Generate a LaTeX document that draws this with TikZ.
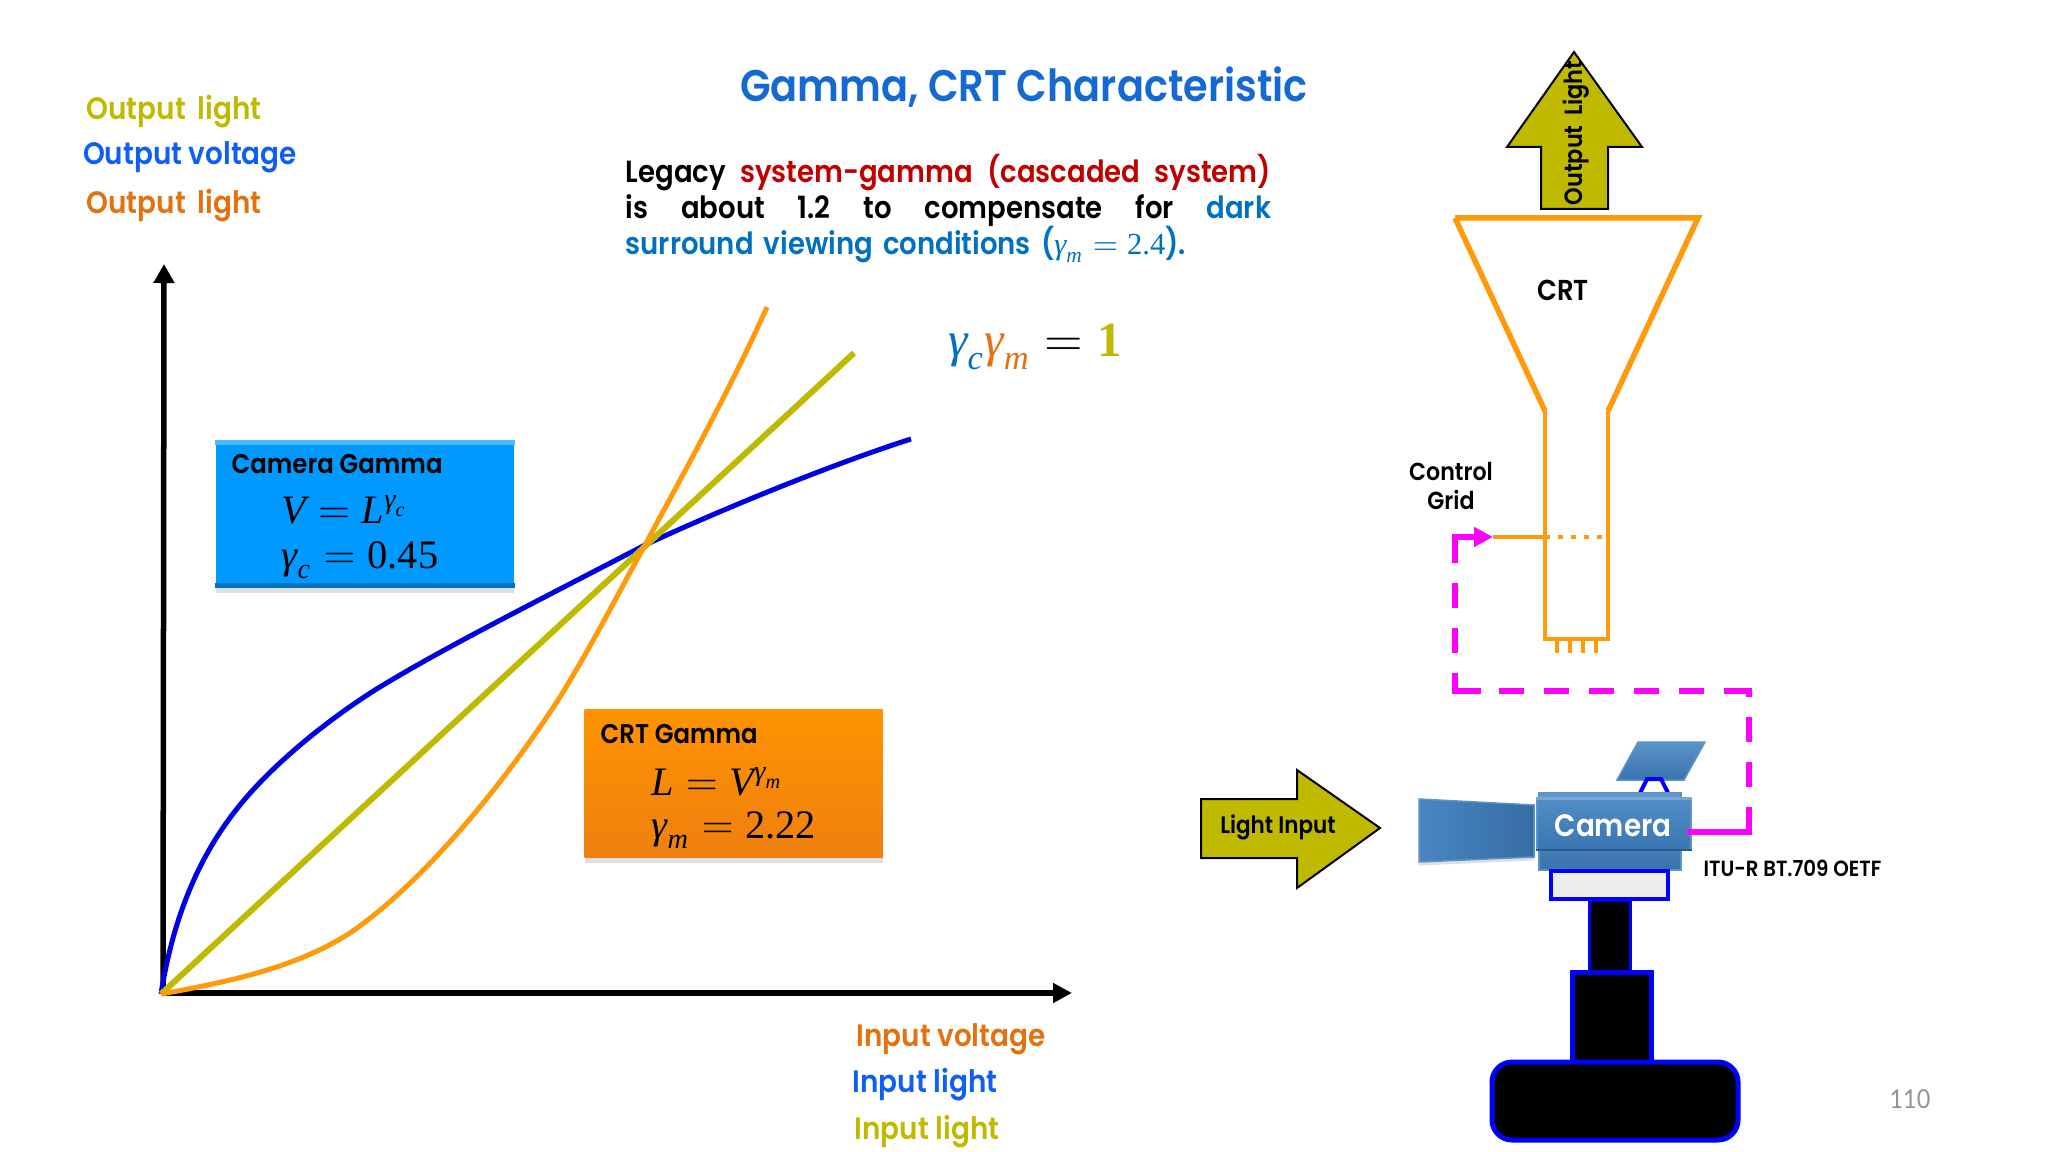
\documentclass[tikz,border=0pt]{standalone}
\usepackage{amsmath, amssymb}
\usepackage{xcolor}
\usepackage{fontspec}
\setmainfont{Poppins SemiBold}[FakeStretch=0.9]
\newfontfamily\pagefont{Lato}[FakeStretch=0.9]
\newfontfamily\mathface{Liberation Serif}
\usepackage{tikz}
\usetikzlibrary{arrows.meta, calc, shadows}
\newcommand{\mi}[1]{\text{\mathface\itshape #1}}
\newcommand{\mn}[1]{\text{\mathface #1}}
\definecolor{oliveline}{HTML}{BFBA00}
\definecolor{titleblue}{HTML}{1569D2}
\definecolor{labelblue}{HTML}{0F5FF5}
\definecolor{labelorange}{HTML}{E3710F}
\definecolor{darkred}{HTML}{C00000}
\definecolor{darkblue}{HTML}{0070C0}
\definecolor{steel}{HTML}{3F80C0}
\definecolor{tube}{HTML}{FF9A0A}
\definecolor{signalpink}{HTML}{FF00FF}
\definecolor{skybox}{HTML}{0099FF}
\tikzset{
    axis/.style={draw=black, line width=0.55mm},
    curveblue/.style={draw=blue!90!black, line width=0.5mm},
    curveolive/.style={draw=oliveline, line width=0.6mm},
    curveorange/.style={draw=tube, line width=0.5mm},
    label/.style={inner sep=0pt, font=\fontsize{8.8}{10}\selectfont},
    gammabox/.style={minimum width=29.8mm, inner sep=0pt, drop shadow={shadow xshift=0pt, shadow yshift=-1.5pt, opacity=0.25}},
    bigarrow/.style={fill=oliveline, draw=black, line width=0.2mm},
    tube/.style={draw=tube, line width=0.42mm},
    signal/.style={draw=signalpink, line width=0.6mm},
    signaldash/.style={signal, dash pattern=on 7.1pt off 5.7pt, dash phase=7.1pt},
    bevel/.style={fill=steel, draw=steel!85!white, line width=0.15mm},
    stand/.style={fill=black, draw=blue, line width=0.5mm}
}
\begin{document}
\begin{tikzpicture}[x=0.01cm, y=-0.01cm]
    \useasboundingbox (0,0) rectangle (2048,1152);
    % axes
    \coordinate (origin) at (163,993);
    \coordinate (xtip) at (1072,993);
    \coordinate (ytip) at (164,264);
    \draw[axis, -{Triangle[length=1.9mm, width=1.9mm]}] (origin) -- (xtip);
    \draw[axis, -{Triangle[length=1.9mm, width=2mm]}] (origin) -- (ytip);
    % curves
    \draw[curveblue] (161,994) .. controls (172,925) and (195,860) .. (240,805) .. controls (270,768) and (320,725) .. (375,690) .. controls (440,650) and (520,610) .. (645,545) .. controls (720,510) and (830,465) .. (911,439);
    \draw[curveolive] (161,994) -- (854,353);
    \draw[curveorange] (161,994) .. controls (240,980) and (300,965) .. (350,933) .. controls (420,885) and (500,790) .. (560,697) .. controls (595,640) and (620,590) .. (645,545) .. controls (680,480) and (730,390) .. (767,307);
    % axis labels
    \node[label, text=oliveline] (ylabelA) at (174,112) {Output\, light};
    \node[label, text=labelblue] (ylabelB) at (190,157) {Output voltage};
    \node[label, text=labelorange] (ylabelC) at (174,206) {Output\, light};
    \node[label, text=labelorange] (xlabelA) at (951,1039) {Input voltage};
    \node[label, text=labelblue] (xlabelB) at (925,1085) {Input light};
    \node[label, text=oliveline] (xlabelC) at (927,1132) {Input light};
    % title and note
    \node[inner sep=0pt, text=titleblue, font=\fontsize{12.6}{15}\selectfont] (title) at (1024,87) {Gamma, CRT Characteristic};
    \node[inner sep=0pt, anchor=north west, text width=64.5mm, align=left, font=\fontsize{8.7}{10.1}\selectfont] (note) at (625,154) {%
        \makebox[64.5mm][s]{Legacy\hfill\textcolor{darkred}{system-gamma\hfill(cascaded\hfill system)}}\\
        \makebox[64.5mm][s]{is\hfill about\hfill 1.2\hfill to\hfill compensate\hfill for\hfill\textcolor{darkblue}{dark}}\\
        \smash{\textcolor{darkblue}{surround viewing conditions ($\mi{γ}_{\mi{m}}=\mn{2.4}$).}}};
    \node[inner sep=0pt, font=\fontsize{14}{16}\selectfont] (product) at (1035,347) {$\textcolor{darkblue}{\mi{γ}_{\mi{c}}}\textcolor{labelorange}{\mi{γ}_{\mi{m}}}=\textcolor{oliveline}{\text{\mathface\bfseries 1}}$};
    % camera gamma box
    \node[gammabox, minimum height=14.7mm, fill=skybox, anchor=north west] (cambox) at (215,440) {};
    \fill[skybox!70!white] (cambox.north west) rectangle ($(cambox.north east)+(0,5)$);
    \fill[skybox!75!black] ($(cambox.south west)+(0,-5)$) rectangle (cambox.south east);
    \node[inner sep=0pt, anchor=west, font=\fontsize{7.7}{9}\selectfont] (camtitle) at (231,464) {Camera Gamma};
    \node[inner sep=0pt, anchor=west, font=\fontsize{11.5}{13}\selectfont] (camlaw) at (281,510) {$\mi{V}=\mi{L}^{\mi{γ}_{\mi{c}}}$};
    \node[inner sep=0pt, anchor=west, font=\fontsize{11.5}{13}\selectfont] (camval) at (281,560) {$\mi{γ}_{\mi{c}}=\mn{0.45}$};
    % crt gamma box
    \node[gammabox, minimum height=14.8mm, top color=orange!85!yellow, bottom color=orange!75!brown, anchor=north west] (crtbox) at (584,709) {};
    \node[inner sep=0pt, anchor=west, font=\fontsize{7.7}{9}\selectfont] (crttitle) at (600,734) {CRT Gamma};
    \node[inner sep=0pt, anchor=west, font=\fontsize{11.5}{13}\selectfont] (crtlaw) at (651,782) {$\mi{L}=\mi{V}^{\mi{γ}_{\mi{m}}}$};
    \node[inner sep=0pt, anchor=west, font=\fontsize{11.5}{13}\selectfont] (crtval) at (651,830) {$\mi{γ}_{\mi{m}}=\mn{2.22}$};
    % output arrow and tube
    \draw[bigarrow] (1574,52) -- (1642,147) -- (1608,147) -- (1608,209) -- (1541,209) -- (1541,147) -- (1507,147) -- cycle;
    \node[inner sep=0pt, rotate=90, font=\fontsize{7.1}{9}\selectfont] (outlight) at (1576,133) {Output\, Light};
    \draw[tube, line width=0.55mm] (1455,218) -- (1698,218) -- (1608,411) (1455,218) -- (1545,411);
    \draw[tube] (1545,411) -- (1545,639) -- (1608,639) -- (1608,411);
    \foreach \x in {1557,1570,1583,1596} {
        \draw[tube] (\x,639) -- (\x,653);
    }
    \node[inner sep=0pt, font=\fontsize{8.2}{10}\selectfont] (crt) at (1563,290) {CRT};
    \node[inner sep=0pt, align=center, font=\fontsize{7}{8}\selectfont] (grid) at (1451,486) {Control\\Grid};
    \coordinate (gridin) at (1493,537);
    \coordinate (gridleft) at (1545,537);
    \coordinate (gridright) at (1608,537);
    \draw[tube] (gridin) -- (gridleft);
    \draw[tube, dash pattern=on 1.4pt off 2.3pt] (gridleft) -- (gridright);
    % camera
    \draw[bigarrow] (1201,799) -- (1297,799) -- (1297,770) -- (1380,828) -- (1297,888) -- (1297,858) -- (1201,858) -- cycle;
    \node[inner sep=0pt, font=\fontsize{6.8}{9}\selectfont] (lightin) at (1278,827) {Light Input};
    \draw[bevel, left color=steel!95!white, right color=steel!85!black, drop shadow={shadow xshift=0pt, shadow yshift=-1pt, opacity=0.25}] (1419,799) -- (1534,805) -- (1534,857) -- (1419,862) -- cycle;
    \draw[bevel, top color=steel!85!white, bottom color=steel!90!black] (1638,742) -- (1705,742) -- (1684,780) -- (1617,780) -- cycle;
    \draw[draw=blue, fill=white, line width=0.4mm] (1647,779) -- (1661,779) -- (1669,795) -- (1639,795) -- cycle;
    \draw[bevel, top color=steel!80!white, bottom color=steel!90!black] (1539,793) rectangle (1681,870);
    \node[inner sep=0pt, minimum width=15.4mm, minimum height=5.2mm, bevel, top color=steel!90!white, bottom color=steel!92!black] (camera) at (1614,824) {};
    \fill[steel!70!white] (camera.north west) rectangle ($(camera.north east)+(0,3)$);
    \fill[steel!70!black] ($(camera.south west)+(0,-2)$) rectangle (camera.south east);
    \node[inner sep=0pt, text=white, font=\fontsize{8.8}{11}\selectfont] (camname) at (1613,826) {Camera};
    \node[inner sep=0pt, anchor=west, font=\fontsize{6.25}{8}\selectfont] (oetf) at (1703,868) {ITU-R BT.709 OETF};
    \draw[fill=black!7!white, draw=blue, line width=0.4mm] (1551,871) rectangle (1668,899);
    \draw[stand, line width=0.3mm] (1589,900) rectangle (1630,972);
    \draw[stand] (1572,972) rectangle (1651,1062);
    \draw[stand, rounded corners=2mm] (1492,1062) rectangle (1738,1140);
    % signal path
    \coordinate (camout) at (1687,832);
    \coordinate (corner) at (1749,832);
    \coordinate (rightA) at (1749,807);
    \coordinate (rightB) at (1749,697);
    \coordinate (lowA) at (1724,691);
    \coordinate (lowB) at (1481,691);
    \coordinate (leftA) at (1455,673);
    \coordinate (leftB) at (1455,562);
    \draw[signal] (camout) -- (corner) -- (rightA);
    \draw[signaldash] (rightA) -- (rightB);
    \draw[signal] (rightB) -- (1749,691) -- (lowA);
    \draw[signaldash] (lowA) -- (lowB);
    \draw[signal] (lowB) -- (1455,691) -- (leftA);
    \draw[signaldash] (leftA) -- (leftB);
    \draw[signal, -{Triangle[length=1.9mm, width=1.9mm]}] (leftB) -- (1455,537) -- (gridin);
    % page number
    \node[inner sep=0pt, text=gray!85!white, font=\pagefont\fontsize{7.4}{9}\selectfont] (page) at (1910,1099) {110};
\end{tikzpicture}
\end{document}
